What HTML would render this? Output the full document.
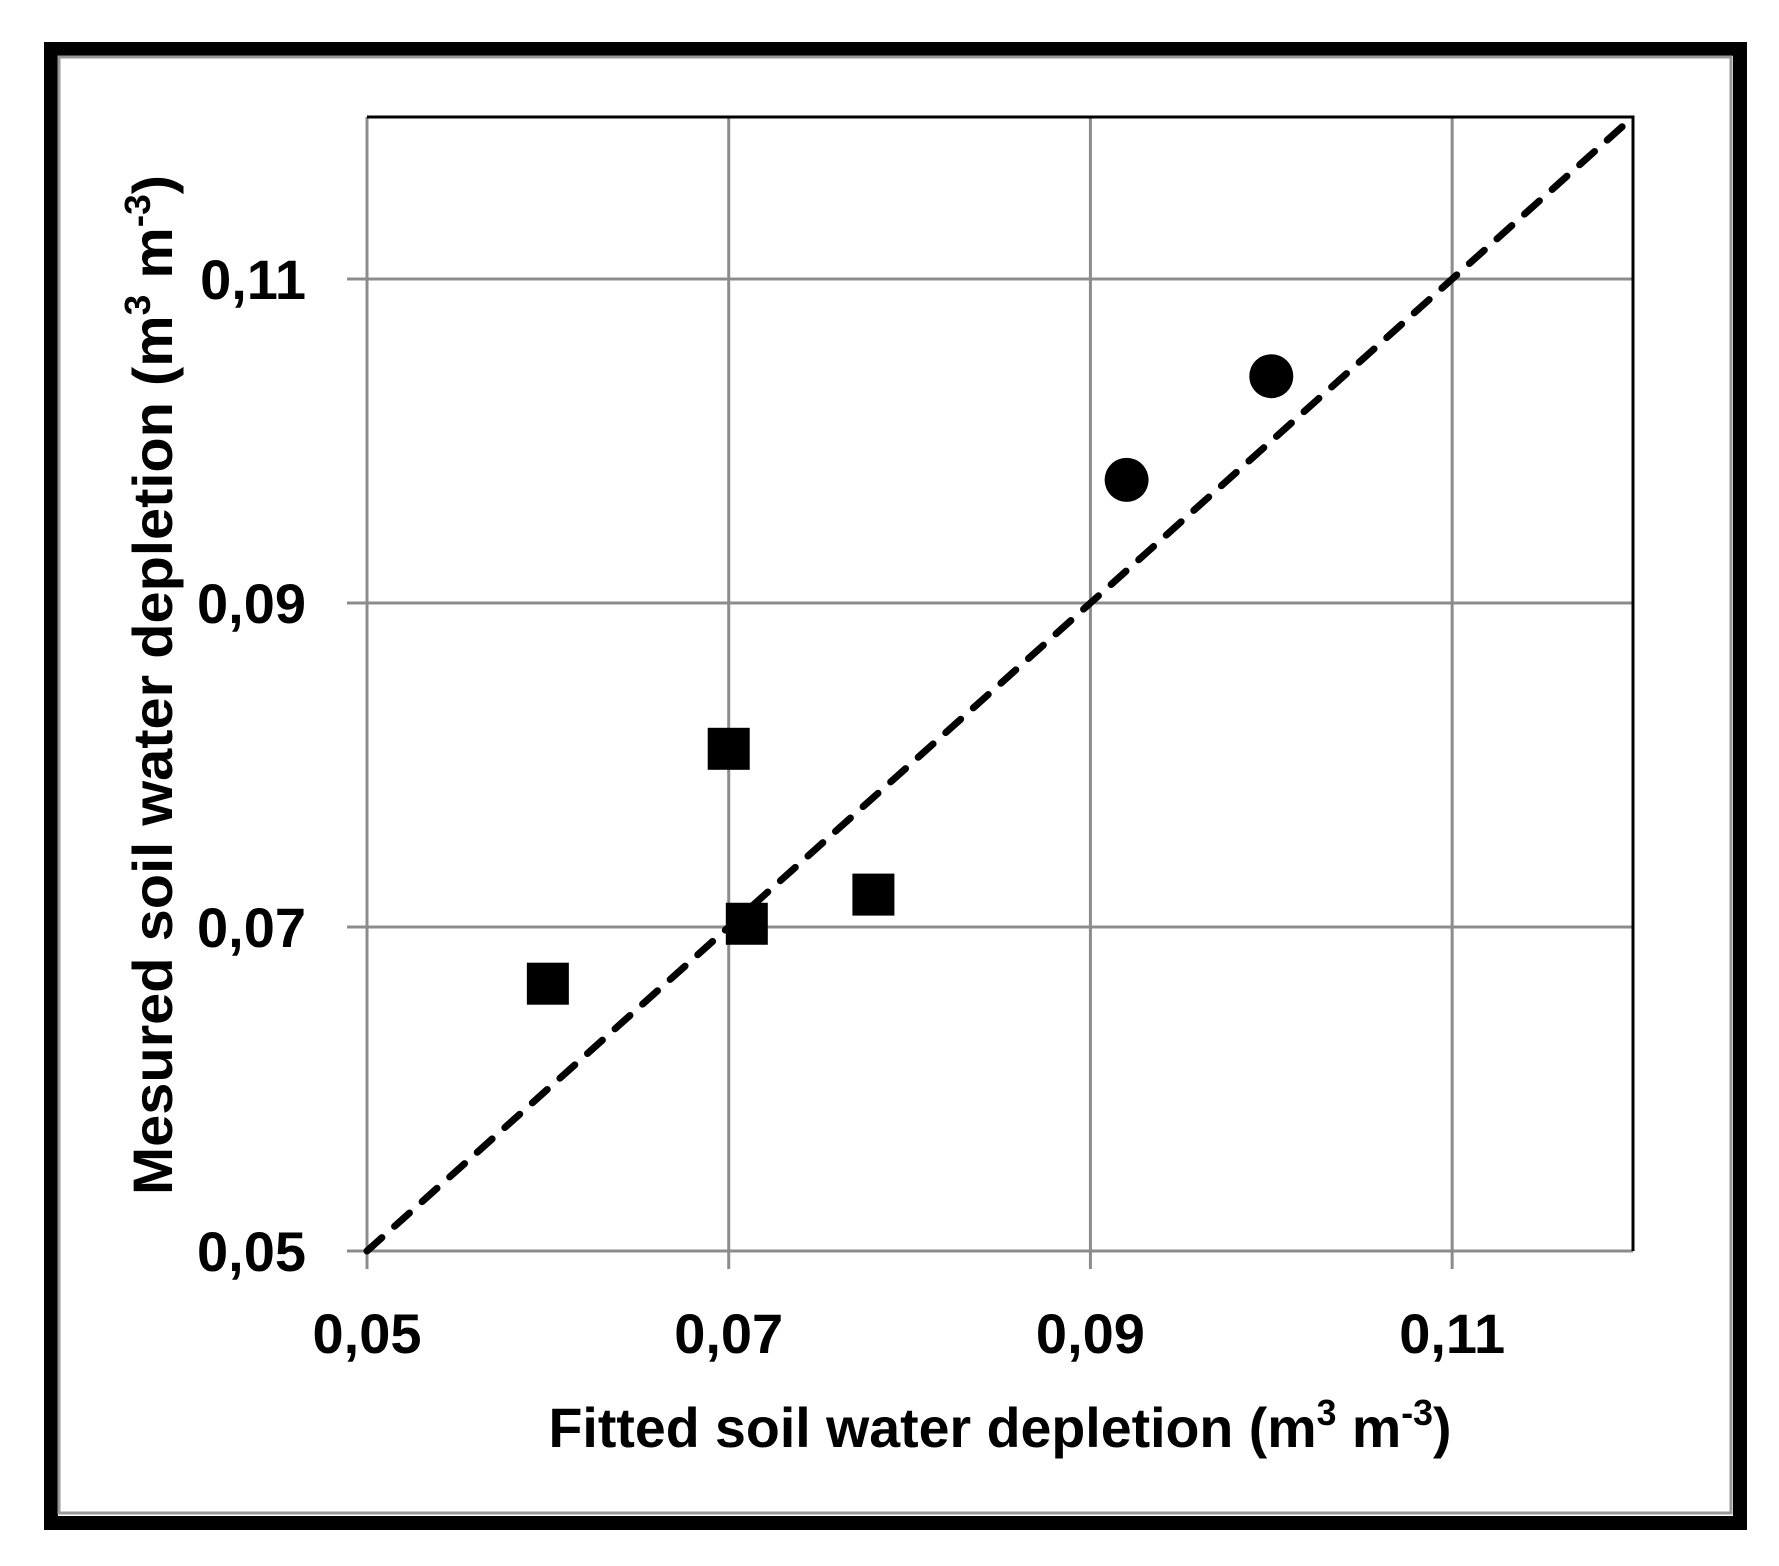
<!DOCTYPE html>
<html><head><meta charset="utf-8"><style>
html,body{margin:0;padding:0;background:#fff;}
svg{display:block;}
text{font-family:"Liberation Sans",sans-serif;font-weight:bold;fill:#000;}
</style></head><body>
<svg id="chart" width="1779" height="1566" viewBox="0 0 1779 1566">
  <rect x="51" y="49" width="1689" height="1474" fill="none" stroke="#000" stroke-width="14"/>
  <rect x="59" y="57" width="1672" height="1456" fill="none" stroke="#999" stroke-width="3"/>
  <g id="grid"></g>
  <g id="ticks"></g>
  <g id="marks"></g>
  <text x="1000" y="1447" text-anchor="middle" font-size="56" textLength="903" lengthAdjust="spacingAndGlyphs">Fitted soil water depletion (m<tspan font-size="36" dy="-22">3</tspan><tspan dy="22"> m</tspan><tspan font-size="36" dy="-22">-3</tspan><tspan dy="22">)</tspan></text>
  <text transform="translate(172,685) rotate(-90)" x="0" y="0" text-anchor="middle" font-size="56" textLength="1020" lengthAdjust="spacingAndGlyphs">Mesured soil water depletion (m<tspan font-size="36" dy="-22">3</tspan><tspan dy="22"> m</tspan><tspan font-size="36" dy="-22">-3</tspan><tspan dy="22">)</tspan></text>
</svg>
<script>
const xTicks = [0.05, 0.07, 0.09, 0.11];
const yTicks = [0.05, 0.07, 0.09, 0.11];
const xTickLabels = ["0,05", "0,07", "0,09", "0,11"];
const yTickLabels = ["0,05", "0,07", "0,09", "0,11"];
const squareX = [0.060, 0.070, 0.071, 0.078];
const squareY = [0.0665, 0.0810, 0.0702, 0.0720];
const circleX = [0.092, 0.100];
const circleY = [0.0976, 0.1040];
const lineX = [0.05, 0.12];
const lineY = [0.05, 0.12];
const domainMin = 0.05, domainMax = 0.12;

const plotL = 367, plotR = 1633, plotT = 117, plotB = 1251;
const xs = v => plotL + (v - domainMin) / (domainMax - domainMin) * (plotR - plotL);
const ys = v => plotB - (v - domainMin) / (domainMax - domainMin) * (plotB - plotT);
const NS = "http://www.w3.org/2000/svg";
function mk(tag, attrs, parent) {
  const e = document.createElementNS(NS, tag);
  for (const k in attrs) e.setAttribute(k, attrs[k]);
  parent.appendChild(e);
  return e;
}
const gridG = document.getElementById('grid');
const ticksG = document.getElementById('ticks');
const marksG = document.getElementById('marks');

xTicks.forEach((v, i) => {
  const ln = mk('line', {x1: xs(v), x2: xs(v), y1: plotT, y2: plotB + 18, stroke: '#8c8c8c', 'stroke-width': 3}, gridG);
  
  
  const t = mk('text', {x: xs(v), y: 1353, 'text-anchor': 'middle', 'font-size': 56}, ticksG);
  t.textContent = xTickLabels[i];
  
  
});
yTicks.forEach((v, i) => {
  const ln = mk('line', {x1: plotL - 20, x2: plotR, y1: ys(v), y2: ys(v), stroke: '#8c8c8c', 'stroke-width': 3}, gridG);
  
  
  const t = mk('text', {x: 306, y: ys(v) + 20, 'text-anchor': 'end', 'font-size': 56}, ticksG);
  t.textContent = yTickLabels[i];
  
  
});
const plotBorder = mk('path', {d: `M${plotL},${plotT} H${plotR} V${plotB}`, fill: 'none', stroke: '#000', 'stroke-width': 3}, gridG);



const dl = mk('line', {x1: xs(lineX[0]), y1: ys(lineY[0]), x2: xs(lineX[1]), y2: ys(lineY[1]), stroke: '#000', 'stroke-width': 7, 'stroke-dasharray': '20 17', 'stroke-linecap': 'round'}, marksG);



squareX.forEach((v, i) => {
  const s = mk('rect', {x: xs(v) - 21, y: ys(squareY[i]) - 21, width: 42, height: 42, fill: '#000'}, marksG);
  
  
});
circleX.forEach((v, i) => {
  const c = mk('circle', {cx: xs(v), cy: ys(circleY[i]), r: 22, fill: '#000'}, marksG);
  
  
});
</script>
</body></html>
